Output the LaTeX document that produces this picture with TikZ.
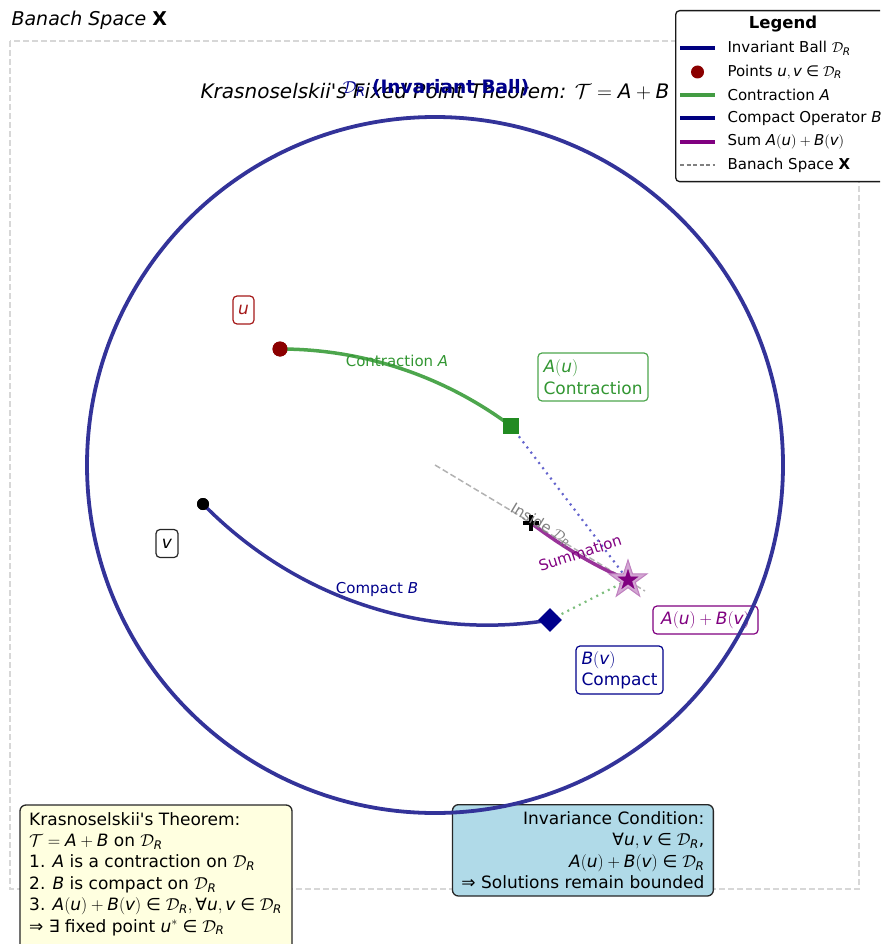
\documentclass[tikz,border=0pt]{standalone}
\usepackage{fontspec}
\setmainfont{DejaVu Sans}
\usetikzlibrary{shapes.geometric}

\definecolor{ballblue}{RGB}{51,51,153}
\definecolor{darknavy}{RGB}{0,0,139}
\definecolor{legnavy}{RGB}{0,0,128}
\definecolor{contrgreen}{RGB}{77,166,77}
\definecolor{textgreen}{RGB}{50,150,50}
\definecolor{forest}{RGB}{34,139,34}
\definecolor{sumpurple}{RGB}{153,51,153}
\definecolor{purp}{RGB}{128,0,128}
\definecolor{dotblue}{RGB}{100,100,205}
\definecolor{dotgreen}{RGB}{125,190,125}
\definecolor{framegray}{RGB}{215,215,215}
\definecolor{lyellow}{RGB}{255,255,224}
\definecolor{lblue}{RGB}{176,218,232}
\definecolor{ured}{RGB}{165,25,25}
\definecolor{udot}{RGB}{139,0,0}

\newcommand\mi[1]{\mathit{#1}}
\newcommand\inn{\mathrel{\hbox{∈}}}
\newcommand\fa{\mathord{\hbox{∀}}}
\newcommand\DR{\ensuremath{\mathcal{D}_{\mathit{R}}}}
\newcommand\opT{\ensuremath{\mathcal{T}}}
\newcommand\apos{\textquotesingle}

\tikzset{
  bodyfont/.style={font=\fontsize{17}{21.4}\selectfont},
  smallfont/.style={font=\fontsize{15}{18}\selectfont},
  tagbox/.style={draw, rounded corners=4pt, fill=white, line width=1.2pt, bodyfont},
  infobox/.style={draw=black!85, rounded corners=6pt, line width=1.3pt},
  legline/.style={line width=3.5pt},
}

\begin{document}
\begin{tikzpicture}[x=1pt,y=-1pt]
\useasboundingbox (0,0) rectangle (880,944);
\clip (0,0) rectangle (880,944);

% Banach space frame
\draw[framegray, line width=1.5pt, dash pattern=on 6pt off 3pt] (10,41) rectangle (859,889);
\node[anchor=west, font=\fontsize{19}{23}\selectfont\itshape] (bx) at (8,20)
  {Banach Space \textup{\textbf{X}}};

% title with the ball label over it
\node[font=\fontsize{20}{24}\selectfont\itshape] (title) at (435,92)
  {Krasnoselskii\apos s Fixed Point Theorem: $\opT=\mi A+\mi B$};
\node[font=\fontsize{18.5}{22}\selectfont\bfseries, text=darknavy] (balllab) at (436,88)
  {$\mathcal{D}_{\mi R}$ (Invariant Ball)};

% reference points
\coordinate (O) at (435,465);
\coordinate (Oend) at (645,591);
\coordinate (cA1) at (363,349);
\coordinate (cA2) at (444,376);
\coordinate (cB1) at (294,597);
\coordinate (cB2) at (423,641);
\coordinate (cS1) at (560,545);
\coordinate (cS2) at (594,566);

\node[circle, fill=udot, inner sep=0pt, minimum size=15pt] (u) at (280,349) {};
\node[circle, fill=black, inner sep=0pt, minimum size=12pt] (v) at (203,504) {};
\node[inner sep=0pt, minimum size=16pt] (Au) at (511,426) {};
\node[diamond, inner sep=0pt, minimum size=24pt] (Bv) at (550,620) {};
\node[inner sep=0pt, minimum size=16pt] (P) at (531,523) {};
\node[inner sep=0pt, minimum size=2pt] (S) at (628,580) {};

% guide lines
\draw[gray!60, line width=1.5pt, dash pattern=on 6pt off 3pt] (O) -- (Oend);
\draw[dotblue, line width=2.2pt, dash pattern=on 2pt off 4.5pt] (Au.center) -- (S.center);
\draw[dotgreen, line width=2.2pt, dash pattern=on 2pt off 4.5pt] (Bv.center) -- (S.center);

% operator curves
\draw[contrgreen, line width=3.5pt] (u.center) .. controls (cA1) and (cA2) .. (Au.center);
\draw[ballblue, line width=3.5pt] (v.center) .. controls (cB1) and (cB2) .. (Bv.center);
\draw[sumpurple, line width=3.5pt] (P.center) .. controls (cS1) and (cS2) .. (S.center);

% markers
\node[fill=forest, inner sep=0pt, minimum size=16pt] (AuM) at (Au) {};
\node[diamond, fill=darknavy, inner sep=0pt, minimum size=24pt] (BvM) at (Bv) {};
\node[star, star points=5, star point ratio=2.618, fill=purp!35, draw=purp!50,
      line width=1pt, inner sep=0pt, minimum size=40pt] (Sout) at (S) {};
\node[star, star points=5, star point ratio=2.618, fill=purp, draw=purp,
      inner sep=0pt, minimum size=21pt] (Sin) at (S) {};
\draw[black, line width=3.2pt] (P.west) -- (P.east);
\draw[black, line width=3.2pt] (P.north) -- (P.south);
\node[circle, fill=udot, inner sep=0pt, minimum size=15pt] (uM) at (u) {};
\node[circle, fill=black, inner sep=0pt, minimum size=12pt] (vM) at (v) {};

% curve labels
\node[smallfont, text=textgreen] (lc) at (397,361) {Contraction $\mi A$};
\node[smallfont, text=darknavy] (lk) at (377,589) {Compact $\mi B$};
\node[smallfont, text=purp, rotate=18] (ls) at (580,553) {Summation};
\node[smallfont, text=gray, rotate=-31] (li) at (541,525) {Inside \DR};

% point and image tags
\node[tagbox, draw=ured, text=ured, minimum width=21pt, minimum height=28pt, inner sep=0pt] (ut) at (243.5,310) {$\mi u$};
\node[tagbox, draw=black!85, minimum width=22pt, minimum height=28pt, inner sep=0pt] (vt) at (167,543.5) {$\mi v$};
\node[tagbox, draw=contrgreen, text=textgreen, text width=99pt, align=left,
      inner xsep=5.5pt, inner ysep=4pt, minimum height=48pt] (aut) at (593,377)
  {$\mi A(\mi u)$\\Contraction};
\node[tagbox, draw=darknavy, text=darknavy, text width=76pt, align=left,
      inner xsep=5.5pt, inner ysep=4pt, minimum height=48pt] (bvt) at (619.5,670)
  {$\mi B(\mi v)$\\Compact};
\node[tagbox, draw=purp, text=purp, minimum width=105pt, minimum height=28pt, inner sep=0pt] (st) at (705.5,620)
  {$\mi A(\mi u)+\mi B(\mi v)$};

% explanation boxes
\draw[infobox, fill=lyellow] (20,805) rectangle (292,960);
\node[bodyfont, anchor=north west, align=left, inner xsep=9pt, inner ysep=7pt] (thm) at (20,805)
  {Krasnoselskii\apos s Theorem:\\
   $\opT=\mi A+\mi B$ on \DR\\
   1. $\mi A$ is a contraction on \DR\\
   2. $\mi B$ is compact on \DR\\
   3. $\mi A(\mi u)+\mi B(\mi v)\inn\DR,\fa \mi u,\mi v\inn\DR$\\
   ⇒ ∃ fixed point $\mi u^{*}\inn\DR$};
\node[infobox, bodyfont, fill=lblue, anchor=north east, align=right, draw,
      inner xsep=9pt, inner ysep=7pt] (inv) at (714,804)
  {Invariance Condition:\\
   $\fa \mi u,\mi v\inn\DR$,\\
   $\mi A(\mi u)+\mi B(\mi v)\inn\DR$\\
   ⇒ Solutions remain bounded};

% invariant ball
\draw[ballblue, line width=3.8pt] (O) circle[radius=348pt];

% legend
\node[draw=black!90, fill=white, line width=1.3pt, rounded corners=4pt, anchor=north west,
      minimum width=220pt, minimum height=171pt, inner sep=0pt] (leg) at (675,10) {};
\node[font=\fontsize{16.5}{19}\selectfont\bfseries] (legt) at (783,24) {Legend};
\foreach \y/\nm in {48/a,72/b,95/c,118/d,142/e,165/f}{
  \coordinate (s\nm) at (680,\y);
  \coordinate (e\nm) at (715,\y);
}
\draw[legnavy, legline] (sa) -- (ea);
\node[circle, fill=udot, inner sep=0pt, minimum size=13pt] (lb) at (697.5,72) {};
\draw[forest!85, legline] (sc) -- (ec);
\draw[legnavy, legline] (sd) -- (ed);
\draw[purp, legline] (se) -- (ee);
\draw[gray, line width=1.5pt, dash pattern=on 4pt off 2.5pt] (sf) -- (ef);
\node[smallfont, anchor=west] (ta) at (724,48) {Invariant Ball \DR};
\node[smallfont, anchor=west] (tb) at (724,72) {Points $\mi u,\mi v\inn\DR$};
\node[smallfont, anchor=west] (tc) at (724,95) {Contraction $\mi A$};
\node[smallfont, anchor=west] (td) at (724,118) {Compact Operator $\mi B$};
\node[smallfont, anchor=west] (te) at (724,142) {Sum $\mi A(\mi u)+\mi B(\mi v)$};
\node[smallfont, anchor=west] (tf) at (724,165) {Banach Space $\mathbf{X}$};
\end{tikzpicture}
\end{document}
